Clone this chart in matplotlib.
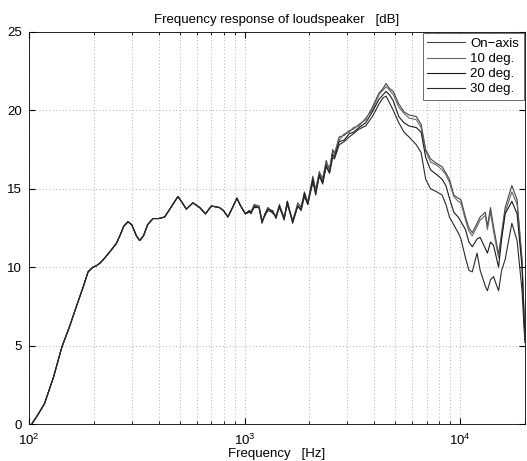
import matplotlib
matplotlib.use("Agg")
import matplotlib.pyplot as plt
from matplotlib.ticker import LogLocator, NullFormatter

plt.rcParams['font.family'] = ['Liberation Sans', 'DejaVu Sans']
plt.rcParams['mathtext.default'] = 'regular'
plt.rcParams['font.size'] = 9.5

# frequency grid in Hz
freq_hz = [100, 104, 110, 118, 130, 142, 155, 165, 178, 188,
           198, 206, 215, 225, 241, 254, 264, 275, 288, 300,
           315, 326, 340, 355, 376, 400, 426, 455, 491, 515,
           537, 576, 620, 659, 702, 765, 800, 837, 880, 922,
           960, 1010, 1050, 1072, 1110, 1168, 1206, 1245, 1283, 1353,
           1400, 1452, 1527, 1580, 1673, 1767, 1831, 1897, 1966, 2076,
           2140, 2224, 2305, 2393, 2480, 2567, 2615, 2750, 2900, 3060,
           3200, 3400, 3650, 3920, 4210, 4400, 4540, 4700, 4900, 5200,
           5500, 5800, 6270, 6600, 6930, 7300, 7800, 8260, 8600, 8930,
           9360, 9800, 10100, 10600, 11000, 11400, 12000, 12400, 13100, 13400,
           13850, 14300, 15100, 15600, 16200, 17400, 18400, 19400, 20000]

on_axis = [-0.3, 0.1, 0.6, 1.3, 3.0, 4.9, 6.3, 7.4, 8.7, 9.7,
           10.0, 10.1, 10.3, 10.6, 11.1, 11.5, 12.0, 12.6, 12.9, 12.7,
           12.0, 11.7, 12.0, 12.7, 13.1, 13.1, 13.2, 13.8, 14.5, 14.1,
           13.7, 14.1, 13.8, 13.4, 13.9, 13.8, 13.6, 13.2, 13.8, 14.4,
           13.9, 13.4, 13.6, 13.5, 14.0, 13.9, 12.9, 13.4, 13.8, 13.5,
           13.2, 14.0, 13.1, 14.2, 12.9, 14.1, 13.8, 14.8, 14.1, 15.8,
           14.9, 16.1, 15.6, 16.8, 16.2, 17.5, 17.2, 18.3, 18.4, 18.7,
           18.8, 19.1, 19.4, 20.2, 21.1, 21.4, 21.7, 21.4, 21.2, 20.4,
           19.9, 19.7, 19.6, 19.1, 17.5, 16.9, 16.6, 16.4, 16.0, 15.6,
           14.6, 14.4, 14.3, 13.2, 12.5, 12.2, 12.8, 13.2, 13.5, 12.6,
           13.8, 12.6, 10.8, 12.2, 13.8, 15.2, 14.3, 10.5, 5.5]

deg_10 = [-0.3, 0.1, 0.6, 1.3, 3.0, 4.9, 6.3, 7.4, 8.7, 9.7,
          10.0, 10.1, 10.3, 10.6, 11.1, 11.5, 12.0, 12.6, 12.9, 12.7,
          12.0, 11.7, 12.0, 12.7, 13.1, 13.1, 13.2, 13.8, 14.5, 14.1,
          13.7, 14.1, 13.8, 13.4, 13.9, 13.8, 13.6, 13.2, 13.8, 14.4,
          13.9, 13.4, 13.5, 13.6, 13.9, 13.9, 13.0, 13.3, 13.8, 13.4,
          13.3, 13.9, 13.2, 14.1, 13.0, 14.0, 13.9, 14.6, 14.2, 15.6,
          15.0, 16.0, 15.7, 16.6, 16.3, 17.3, 17.3, 18.1, 18.5, 18.6,
          18.9, 19.0, 19.5, 20.0, 21.0, 21.3, 21.5, 21.3, 21.0, 20.2,
          19.8, 19.5, 19.4, 18.9, 17.4, 16.7, 16.5, 16.2, 15.9, 15.4,
          14.5, 14.2, 14.1, 13.0, 12.3, 12.0, 12.6, 13.0, 13.3, 12.4,
          13.5, 12.3, 10.6, 12.0, 13.5, 14.8, 14.0, 10.3, 5.4]

deg_20 = [-0.3, 0.1, 0.6, 1.3, 3.0, 4.9, 6.3, 7.4, 8.7, 9.7,
          10.0, 10.1, 10.3, 10.6, 11.1, 11.5, 12.0, 12.6, 12.9, 12.7,
          12.0, 11.7, 12.0, 12.7, 13.1, 13.1, 13.2, 13.8, 14.5, 14.1,
          13.7, 14.1, 13.8, 13.4, 13.9, 13.8, 13.6, 13.2, 13.8, 14.4,
          13.9, 13.4, 13.6, 13.4, 13.9, 13.8, 12.8, 13.4, 13.7, 13.6,
          13.1, 13.9, 13.0, 14.2, 12.8, 13.9, 13.7, 14.7, 14.0, 15.6,
          14.6, 15.9, 15.4, 16.5, 16.0, 17.2, 17.0, 18.0, 18.1, 18.5,
          18.6, 18.9, 19.2, 19.9, 20.7, 21.0, 21.2, 21.0, 20.6, 19.6,
          19.2, 19.0, 18.9, 18.6, 17.0, 16.2, 15.9, 15.6, 15.2, 14.4,
          13.5, 13.2, 12.9, 12.4, 11.6, 11.3, 11.8, 11.9, 11.2, 10.9,
          11.6, 11.4, 10.0, 11.8, 13.4, 14.2, 13.4, 10.0, 5.4]

deg_30 = [-0.3, 0.1, 0.6, 1.3, 3.0, 4.9, 6.3, 7.4, 8.7, 9.7,
          10.0, 10.1, 10.3, 10.6, 11.1, 11.5, 12.0, 12.6, 12.9, 12.7,
          12.0, 11.7, 12.0, 12.7, 13.1, 13.1, 13.2, 13.8, 14.5, 14.1,
          13.7, 14.1, 13.8, 13.4, 13.9, 13.8, 13.6, 13.2, 13.8, 14.4,
          13.9, 13.4, 13.5, 13.5, 13.8, 13.8, 12.9, 13.3, 13.6, 13.5,
          13.2, 13.8, 13.1, 14.0, 12.9, 13.9, 13.6, 14.5, 14.0, 15.4,
          14.7, 15.8, 15.3, 16.4, 16.0, 17.0, 16.9, 17.8, 18.0, 18.3,
          18.5, 18.8, 19.0, 19.6, 20.4, 20.8, 20.9, 20.5, 20.0, 19.2,
          18.6, 18.3, 17.8, 17.3, 15.6, 15.0, 14.8, 14.6, 14.0, 13.2,
          12.7, 12.2, 11.8, 10.6, 9.8, 9.7, 10.9, 9.8, 8.8, 8.5,
          9.2, 9.4, 8.5, 9.8, 10.5, 12.8, 11.7, 8.5, 5.2]

series = [("On\u2212axis", on_axis, '#444444'),
          ("10 deg.", deg_10, '#666666'),
          ("20 deg.", deg_20, '#1a1a1a'),
          ("30 deg.", deg_30, '#2a2a2a')]

fig = plt.figure(figsize=(5.27, 4.61), dpi=100)
ax = fig.add_axes([0.055, 0.080, 0.941, 0.851])

for name, vals, col in series:
    ax.plot(freq_hz, vals, color=col, lw=0.8, label=name)

ax.set_xscale('log')
ax.set_xlim(100, 20000)
ax.set_ylim(0, 25)
ax.set_yticks([0, 5, 10, 15, 20, 25])
ax.xaxis.set_minor_locator(LogLocator(base=10, subs=range(2, 10)))
ax.xaxis.set_minor_formatter(NullFormatter())

grid_style = dict(linestyle=(0, (1, 3)), color='#9a9a9a', lw=0.6)
ax.grid(True, which='both', axis='x', **grid_style)
ax.grid(True, which='major', axis='y', **grid_style)
ax.tick_params(which='both', direction='in', top=True, right=True, labelsize=9.5)
ax.tick_params(which='major', length=4)
ax.tick_params(which='minor', length=2)
ax.tick_params(axis='x', pad=6)
ax.tick_params(axis='y', pad=5)
for s in ax.spines.values():
    s.set_linewidth(0.6)

ax.set_title("Frequency response of loudspeaker   [dB]", fontsize=9.5, pad=6)
ax.set_xlabel("Frequency   [Hz]", fontsize=9.5, labelpad=0)

leg = ax.legend(loc='upper right', fontsize=9.5, handlelength=2.9, labelspacing=0.22,
                borderaxespad=0.1, borderpad=0.35, fancybox=False, framealpha=1,
                edgecolor='#555555', handletextpad=0.35)
leg.get_frame().set_linewidth(0.6)

fig.savefig("out.png", dpi=100)
